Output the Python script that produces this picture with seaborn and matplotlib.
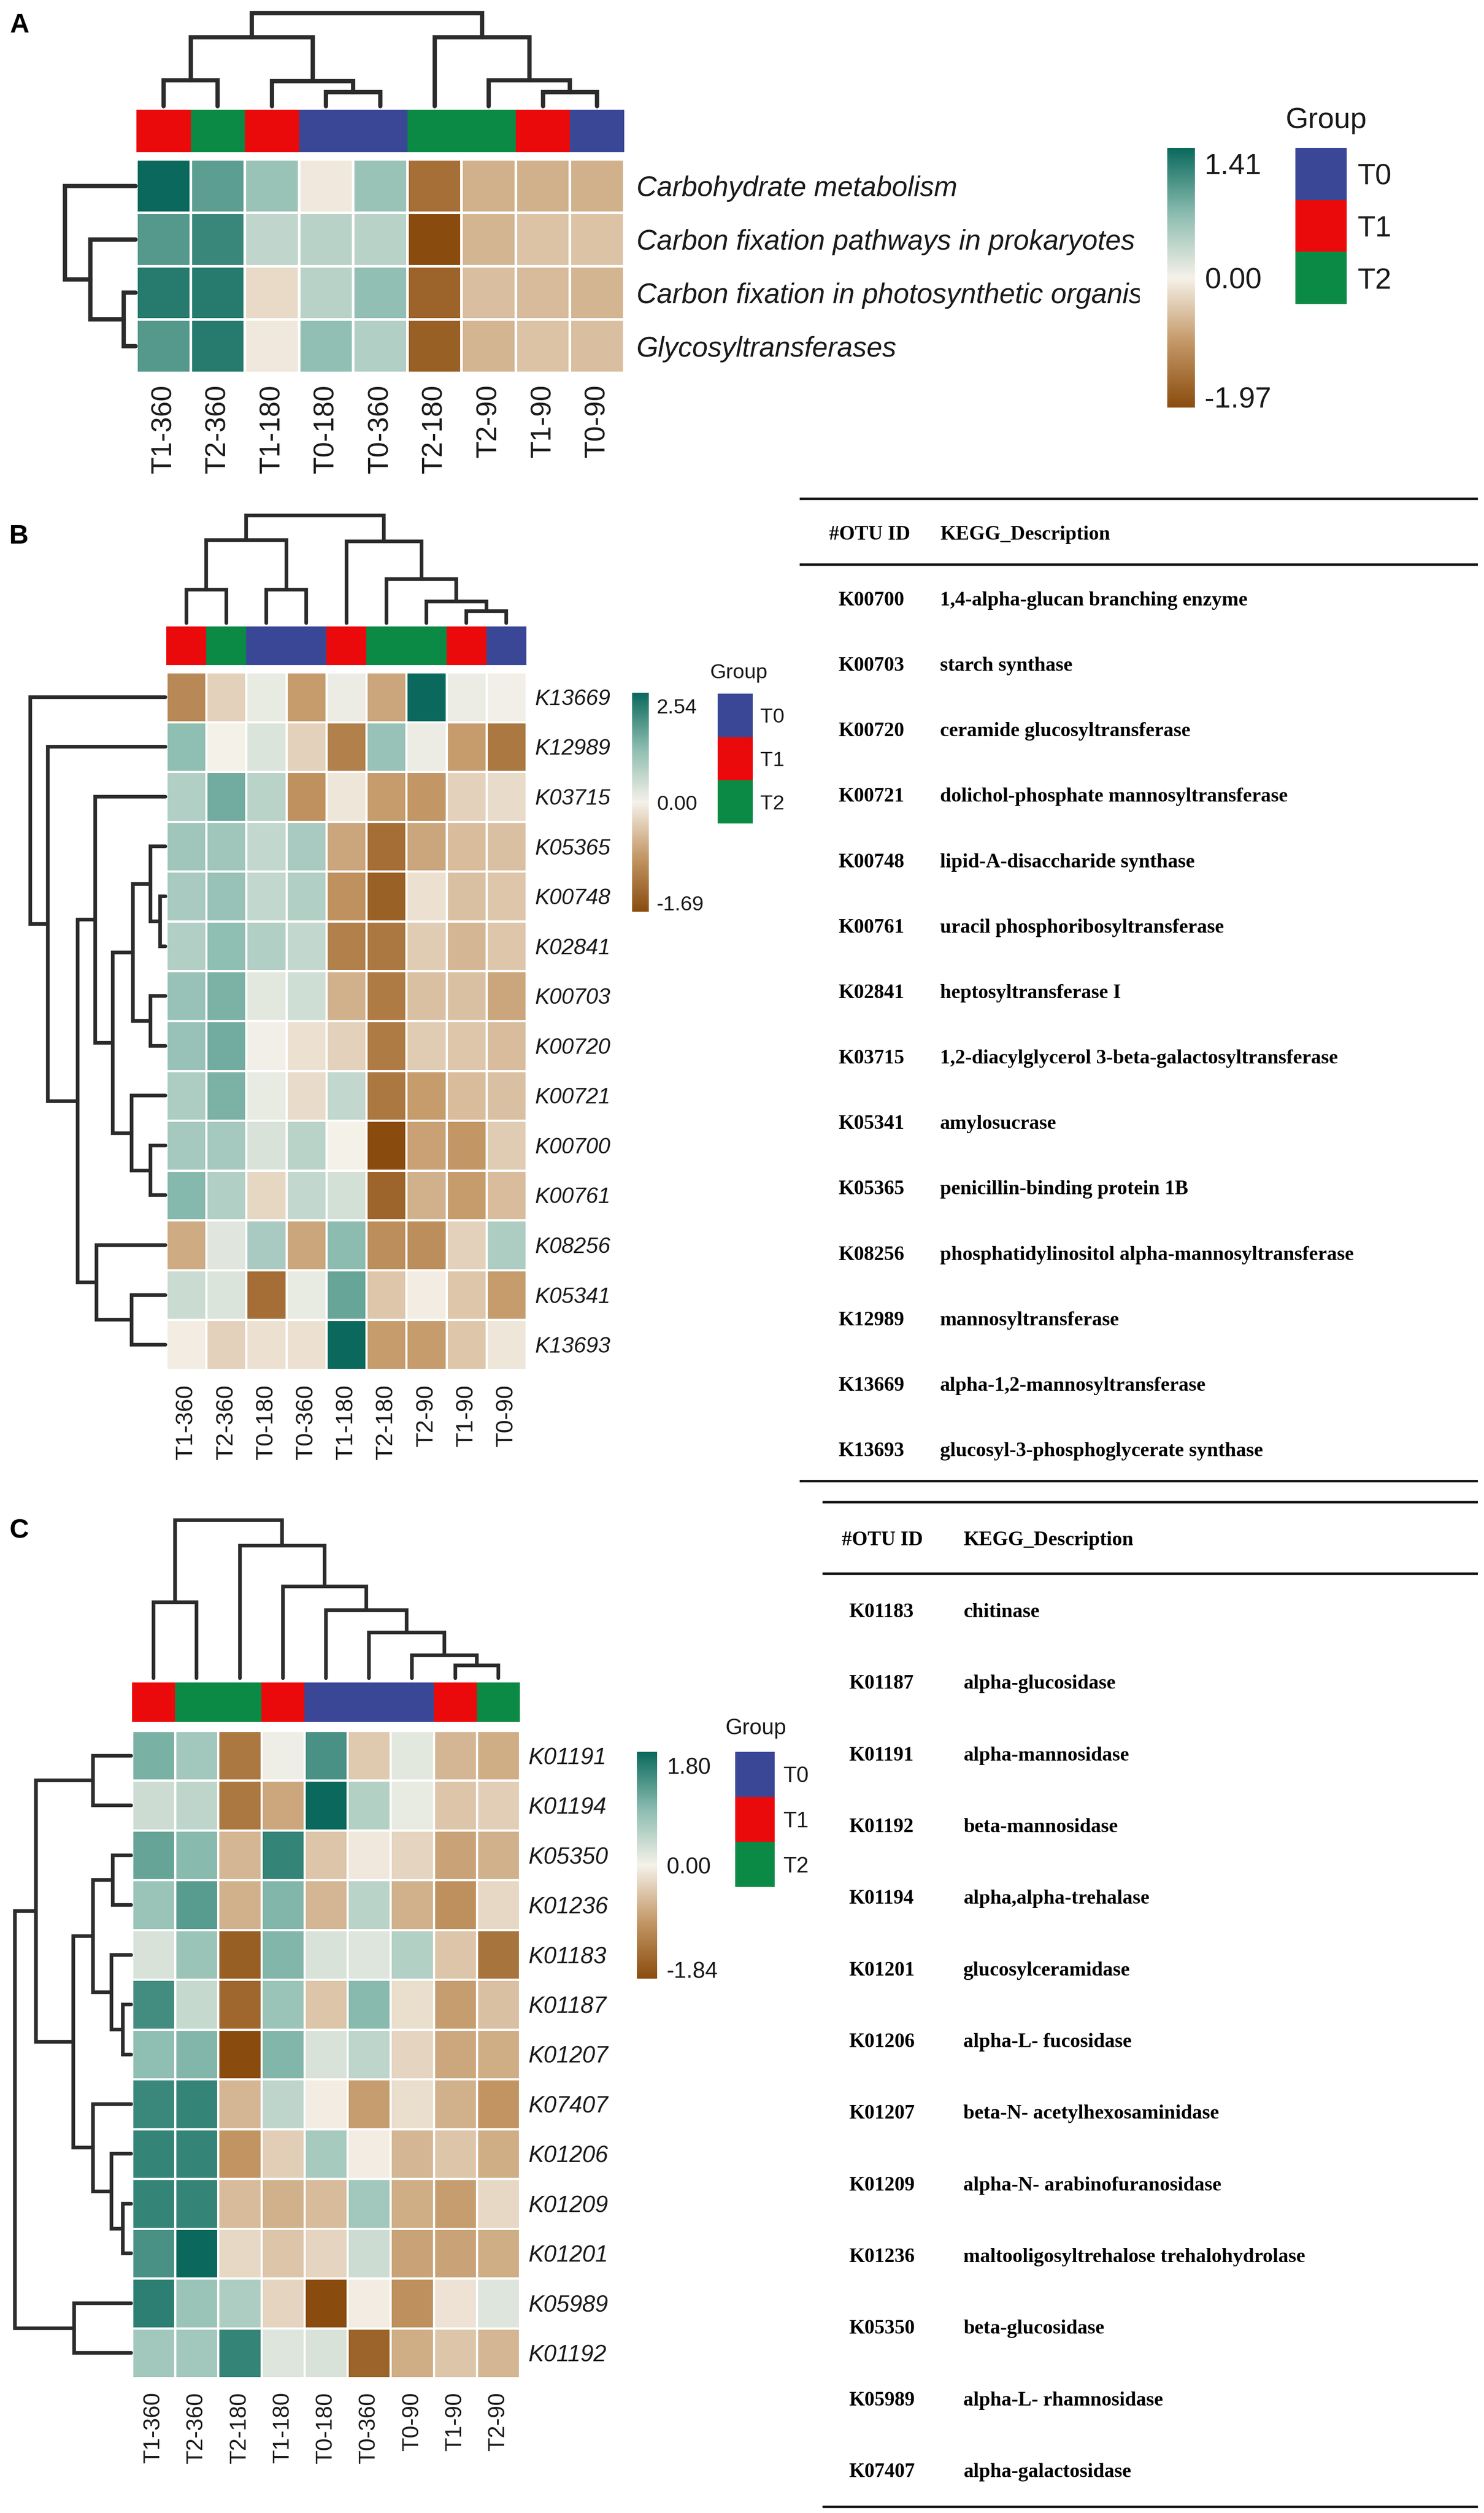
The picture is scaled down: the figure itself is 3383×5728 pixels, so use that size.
import numpy as np
import pandas as pd
import matplotlib
matplotlib.use("Agg")
import matplotlib.pyplot as plt
import seaborn as sns
from matplotlib.colors import LinearSegmentedColormap, ListedColormap, TwoSlopeNorm
from matplotlib.transforms import Bbox, TransformedBbox

W, H = 3383, 5728

# ---------------- data ----------------
group_names = ["T0", "T1", "T2"]
group_colors = ["#3a4797", "#ea0a0b", "#0b8a45"]

# panel A
a_cols = ["T1-360", "T2-360", "T1-180", "T0-180", "T0-360", "T2-180", "T2-90", "T1-90", "T0-90"]
a_groups = ["T1", "T2", "T1", "T0", "T0", "T2", "T2", "T1", "T0"]
a_rows = ["Carbohydrate metabolism", "Carbon fixation pathways in prokaryotes",
          "Carbon fixation in photosynthetic organisms", "Glycosyltransferases"]
a_vals = [
    [1.41, 0.95, 0.60, -0.10, 0.60, -1.50, -0.70, -0.70, -0.70],
    [1.00, 1.15, 0.35, 0.40, 0.40, -1.97, -0.65, -0.50, -0.50],
    [1.25, 1.25, -0.25, 0.40, 0.65, -1.65, -0.55, -0.60, -0.65],
    [1.00, 1.25, -0.10, 0.65, 0.45, -1.70, -0.65, -0.50, -0.55],
]
a_vmin, a_vmax = -1.97, 1.41
# dendrograms: (left, right, height), leaves are display positions
a_col_tree = (((0, 1, 0.28), (2, (3, 4, 0.15), 0.27), 0.74),
              (5, (6, (7, 8, 0.15), 0.28), 0.74), 1.0)
a_row_tree = (0, (1, (2, 3, 0.17), 0.64), 1.0)

# panel B
b_cols = ["T1-360", "T2-360", "T0-180", "T0-360", "T1-180", "T2-180", "T2-90", "T1-90", "T0-90"]
b_groups = ["T1", "T2", "T0", "T0", "T1", "T2", "T2", "T1", "T0"]
b_rows = ["K13669", "K12989", "K03715", "K05365", "K00748", "K02841", "K00703",
          "K00720", "K00721", "K00700", "K00761", "K08256", "K05341", "K13693"]
b_vals = [
    [-1.00, -0.30, 0.15, -0.80, 0.10, -0.70, 2.54, 0.10, 0.05],
    [1.20, 0.00, 0.30, -0.30, -1.10, 1.10, 0.10, -0.80, -1.20],
    [0.80, 1.50, 0.70, -0.90, -0.10, -0.80, -0.85, -0.30, -0.20],
    [1.00, 1.00, 0.60, 0.90, -0.70, -1.30, -0.70, -0.50, -0.45],
    [0.90, 1.10, 0.60, 0.80, -0.90, -1.45, -0.15, -0.45, -0.40],
    [0.80, 1.20, 0.80, 0.60, -1.10, -1.20, -0.35, -0.55, -0.40],
    [1.10, 1.40, 0.20, 0.45, -0.60, -1.15, -0.45, -0.45, -0.70],
    [1.10, 1.50, 0.05, -0.15, -0.30, -1.15, -0.35, -0.40, -0.50],
    [0.85, 1.40, 0.15, -0.20, 0.60, -1.20, -0.80, -0.50, -0.45],
    [0.95, 0.95, 0.35, 0.70, 0.00, -1.69, -0.75, -0.85, -0.35],
    [1.30, 0.80, -0.25, 0.60, 0.40, -1.40, -0.60, -0.80, -0.50],
    [-0.65, 0.25, 0.90, -0.70, 1.25, -0.95, -0.95, -0.30, 0.85],
    [0.50, 0.30, -1.30, 0.15, 1.60, -0.40, -0.05, -0.40, -0.80],
    [-0.05, -0.30, -0.15, -0.15, 2.54, -0.80, -0.80, -0.40, -0.10],
]
b_vmin, b_vmax = -1.69, 2.54
b_col_tree = (((0, 1, 0.31), (2, 3, 0.31), 0.77),
              (4, (5, (6, (7, 8, 0.11), 0.20), 0.41), 0.76), 1.0)
b_row_tree = (0, (1, ((2, ((((3, (4, 5, 0.04), 0.11), (6, 7, 0.11), 0.24),
                            (8, (9, 10, 0.11), 0.25), 0.39)), 0.52),
                      (11, (12, 13, 0.25), 0.51), 0.65), 0.87), 1.0)

# panel C
c_cols = ["T1-360", "T2-360", "T2-180", "T1-180", "T0-180", "T0-360", "T0-90", "T1-90", "T2-90"]
c_groups = ["T1", "T2", "T2", "T1", "T0", "T0", "T0", "T1", "T2"]
c_rows = ["K01191", "K01194", "K05350", "K01236", "K01183", "K01187", "K01207",
          "K07407", "K01206", "K01209", "K01201", "K05989", "K01192"]
c_vals = [
    [1.00, 0.70, -1.30, 0.05, 1.35, -0.40, 0.15, -0.60, -0.70],
    [0.35, 0.45, -1.30, -0.75, 1.80, 0.55, 0.10, -0.45, -0.35],
    [1.15, 0.90, -0.60, 1.50, -0.45, -0.10, -0.30, -0.80, -0.65],
    [0.75, 1.25, -0.65, 0.95, -0.60, 0.50, -0.65, -1.00, -0.25],
    [0.25, 0.75, -1.60, 0.95, 0.25, 0.20, 0.55, -0.45, -1.35],
    [1.40, 0.40, -1.50, 0.75, -0.45, 0.90, -0.20, -0.85, -0.50],
    [0.85, 0.95, -1.84, 0.95, 0.25, 0.45, -0.30, -0.75, -0.70],
    [1.45, 1.50, -0.60, 0.45, -0.05, -0.85, -0.20, -0.65, -0.95],
    [1.50, 1.50, -0.95, -0.35, 0.65, -0.05, -0.60, -0.45, -0.70],
    [1.50, 1.50, -0.55, -0.65, -0.55, 0.70, -0.70, -0.85, -0.25],
    [1.35, 1.80, -0.25, -0.45, -0.30, 0.35, -0.80, -0.80, -0.70],
    [1.55, 0.75, 0.60, -0.30, -1.84, -0.05, -1.00, -0.15, 0.20],
    [0.70, 0.70, 1.50, 0.20, 0.25, -1.55, -0.70, -0.45, -0.60],
]
c_vmin, c_vmax = -1.84, 1.80
c_col_tree = ((0, 1, 0.48),
              (2, (3, (4, (5, (6, (7, 8, 0.08), 0.145), 0.29), 0.43), 0.58), 0.84), 1.0)
c_row_tree = ((((0, 1, 0.33),
                (((2, 3, 0.16), (4, (5, 6, 0.07), 0.17), 0.33),
                 (7, (8, (9, 10, 0.07), 0.17), 0.33), 0.50), 0.82)),
              (11, 12, 0.49), 1.0)

# tables
b_ids = ["K00700", "K00703", "K00720", "K00721", "K00748", "K00761", "K02841",
         "K03715", "K05341", "K05365", "K08256", "K12989", "K13669", "K13693"]
b_desc = ["1,4-alpha-glucan branching enzyme", "starch synthase",
          "ceramide glucosyltransferase", "dolichol-phosphate mannosyltransferase",
          "lipid-A-disaccharide synthase", "uracil phosphoribosyltransferase",
          "heptosyltransferase I", "1,2-diacylglycerol 3-beta-galactosyltransferase",
          "amylosucrase", "penicillin-binding protein 1B",
          "phosphatidylinositol alpha-mannosyltransferase", "mannosyltransferase",
          "alpha-1,2-mannosyltransferase", "glucosyl-3-phosphoglycerate synthase"]
c_ids = ["K01183", "K01187", "K01191", "K01192", "K01194", "K01201", "K01206",
         "K01207", "K01209", "K01236", "K05350", "K05989", "K07407"]
c_desc = ["chitinase", "alpha-glucosidase", "alpha-mannosidase", "beta-mannosidase",
          "alpha,alpha-trehalase", "glucosylceramidase", "alpha-L- fucosidase",
          "beta-N- acetylhexosaminidase", "alpha-N- arabinofuranosidase",
          "maltooligosyltrehalose trehalohydrolase", "beta-glucosidase",
          "alpha-L- rhamnosidase", "alpha-galactosidase"]

# ---------------- style ----------------
sns.set_style("white")
plt.rcParams['font.family'] = ['Liberation Sans', 'DejaVu Sans']
TXT = '#1a1a1a'
DCOL = '#2b2b2b'
heat_cmap = LinearSegmentedColormap.from_list(
    'tealbrown', ['#8a4c0e', '#c39766', '#f5f1e9', '#8abbaf', '#0a695c'])
group_cmap = ListedColormap(group_colors)

fig = plt.figure(figsize=(W / 100, H / 100), dpi=100)
fig.patch.set_facecolor('white')

# overlay axes in pixel coordinates for tables and panel letters
ov = fig.add_axes([0, 0, 1, 1], zorder=-1)
ov.set_xlim(0, W)
ov.set_ylim(H, 0)
ov.axis('off')


def px_axes(x0, y0, x1, y1):
    return fig.add_axes([x0 / W, 1 - y1 / H, (x1 - x0) / W, (y1 - y0) / H])


def tree_segments(node, segs):
    if isinstance(node, int):
        return node + 0.5, 0.0
    left, right, h = node
    xl, hl = tree_segments(left, segs)
    xr, hr = tree_segments(right, segs)
    segs.append(([xl, xl, xr, xr], [hl, h, h, hr]))
    return (xl + xr) / 2, h


def draw_dendro(ax, tree, n, orient, lw):
    segs = []
    tree_segments(tree, segs)
    for pos, hts in segs:
        if orient == 'top':
            ax.plot(pos, hts, color=DCOL, lw=lw, clip_on=False, solid_joinstyle='miter')
        else:
            ax.plot(hts, pos, color=DCOL, lw=lw, clip_on=False, solid_joinstyle='miter')
    if orient == 'top':
        ax.set_xlim(0, n)
        ax.set_ylim(0, 1)
    else:
        ax.set_xlim(1, 0)
        ax.set_ylim(n, 0)
    ax.axis('off')


def heat_panel(vals, rows, cols, groups, vmin, vmax, col_tree, row_tree,
               hm, gbar, cdend, rdend, cbar, leg, leg_title,
               fs_row, fs_col, fs_cb, fs_leg, pad_row, pad_col, pad_cb, pad_leg,
               lw_cell, lw_tree, clip_row=None):
    df = pd.DataFrame(vals, index=rows, columns=cols)
    norm = TwoSlopeNorm(vmin=vmin, vcenter=0.0, vmax=vmax)
    ax = px_axes(*hm)
    cax = px_axes(*cbar)
    sns.heatmap(df, ax=ax, cmap=heat_cmap, norm=norm, linewidths=lw_cell, linecolor='white',
                cbar=True, cbar_ax=cax, xticklabels=True, yticklabels=True)
    ax.yaxis.tick_right()
    ax.set_yticklabels(rows, rotation=0, fontsize=fs_row, style='italic', color=TXT)
    ax.set_xticklabels(cols, rotation=90, fontsize=fs_col, color=TXT)
    ax.tick_params(axis='y', length=0, pad=pad_row)
    ax.tick_params(axis='x', length=0, pad=pad_col)
    ax.set_xlabel('')
    ax.set_ylabel('')
    if clip_row is not None:
        idx, xmax = clip_row
        lab = ax.get_yticklabels()[idx]
        lab.set_clip_box(TransformedBbox(Bbox.from_extents(0, 0, xmax / W, 1), fig.transFigure))
        lab.set_clip_on(True)

    # colour bar labels: max, 0, min
    cb = ax.collections[0].colorbar
    cb.set_ticks([norm.inverse(0.94), 0.0, norm.inverse(0.04)],
                 labels=[f"{vmax:.2f}", "0.00", f"{vmin:.2f}"])
    cb.ax.tick_params(length=0, labelsize=fs_cb, pad=pad_cb, labelcolor=TXT)
    cb.outline.set_visible(False)

    # group annotation bar
    codes = [group_names.index(g) for g in groups]
    gax = px_axes(*gbar)
    sns.heatmap(pd.DataFrame([codes], columns=cols), ax=gax, cmap=group_cmap,
                vmin=-0.5, vmax=2.5, cbar=False, xticklabels=False, yticklabels=False)
    gax.set_xlabel('')
    gax.set_ylabel('')

    # dendrograms
    draw_dendro(px_axes(*cdend), col_tree, len(cols), 'top', lw_tree)
    draw_dendro(px_axes(*rdend), row_tree, len(rows), 'left', lw_tree)

    # group legend
    lax = px_axes(*leg)
    sns.heatmap(pd.DataFrame({'g': [0, 1, 2]}, index=group_names), ax=lax, cmap=group_cmap,
                vmin=-0.5, vmax=2.5, cbar=False, xticklabels=False, yticklabels=True)
    lax.yaxis.tick_right()
    lax.set_yticklabels(group_names, rotation=0, fontsize=fs_leg, color=TXT)
    lax.tick_params(axis='y', length=0, pad=pad_leg)
    lax.set_xlabel('')
    lax.set_ylabel('')
    ov.text(leg_title[0], leg_title[1], 'Group', fontsize=fs_leg, color=TXT,
            ha='left', va='bottom')


heat_panel(a_vals, a_rows, a_cols, a_groups, a_vmin, a_vmax, a_col_tree, a_row_tree,
           hm=(311, 363, 1423, 850), gbar=(311, 250, 1423, 347), cdend=(311, 30, 1423, 242),
           rdend=(148, 363, 309, 850), cbar=(2661, 337, 2724, 929),
           leg=(2953, 337, 3070, 693), leg_title=(2931, 306),
           fs_row=46, fs_col=46, fs_cb=48, fs_leg=48, pad_row=20, pad_col=19, pad_cb=16,
           pad_leg=18, lw_cell=4, lw_tree=7, clip_row=(2, 2598))

heat_panel(b_vals, b_rows, b_cols, b_groups, b_vmin, b_vmax, b_col_tree, b_row_tree,
           hm=(379, 1532, 1200, 3122), gbar=(379, 1428, 1200, 1516), cdend=(379, 1175, 1200, 1420),
           rdend=(69, 1532, 377, 3122), cbar=(1441, 1579, 1479, 2078),
           leg=(1636, 1581, 1716, 1877), leg_title=(1619, 1556),
           fs_row=36, fs_col=39, fs_cb=34, fs_leg=34, pad_row=14, pad_col=24, pad_cb=13,
           pad_leg=12, lw_cell=2.5, lw_tree=6)

heat_panel(c_vals, c_rows, c_cols, c_groups, c_vmin, c_vmax, c_col_tree, c_row_tree,
           hm=(301, 3945, 1185, 5420), gbar=(301, 3835, 1185, 3925), cdend=(301, 3465, 1185, 3825),
           rdend=(34, 3945, 299, 5420), cbar=(1452, 3993, 1498, 4510),
           leg=(1676, 3993, 1766, 4301), leg_title=(1653, 3963),
           fs_row=38, fs_col=37, fs_cb=37, fs_leg=36, pad_row=14, pad_col=23, pad_cb=16,
           pad_leg=14, lw_cell=2.5, lw_tree=6)

# panel letters
for letter, (lx, ly) in zip(["A", "B", "C"], [(22, 30), (21, 1195), (21, 3462)]):
    ov.text(lx, ly, letter, fontsize=44, fontweight='bold', color='black', ha='left', va='top')


# KEGG description tables
def draw_table(ids, descs, x0, x1, top, head, line2, first, last, bottom, head_x, id_x, desc_x):
    tfont = dict(family=['Liberation Serif', 'DejaVu Serif'], fontweight='bold',
                 fontsize=33, color='black', va='center', ha='left')
    for y in (top, line2, bottom):
        ov.plot([x0, x1], [y, y], color='#111111', lw=4, solid_capstyle='butt')
    ov.text(head_x, head, '#OTU ID', **tfont)
    ov.text(desc_x, head, 'KEGG_Description', **tfont)
    step = (last - first) / (len(ids) - 1)
    for i, (k, d) in enumerate(zip(ids, descs)):
        y = first + i * step
        ov.text(id_x, y, k, **tfont)
        ov.text(desc_x, y, d, **tfont)


draw_table(b_ids, b_desc, 1823, 3369, 1137, 1219, 1287, 1369, 3308, 3376, 1890, 1911, 2143)
draw_table(c_ids, c_desc, 1875, 3369, 3424, 3511, 3587, 3675, 5635, 5714, 1919, 1935, 2196)

fig.savefig("out.png", dpi=100, facecolor='white')
